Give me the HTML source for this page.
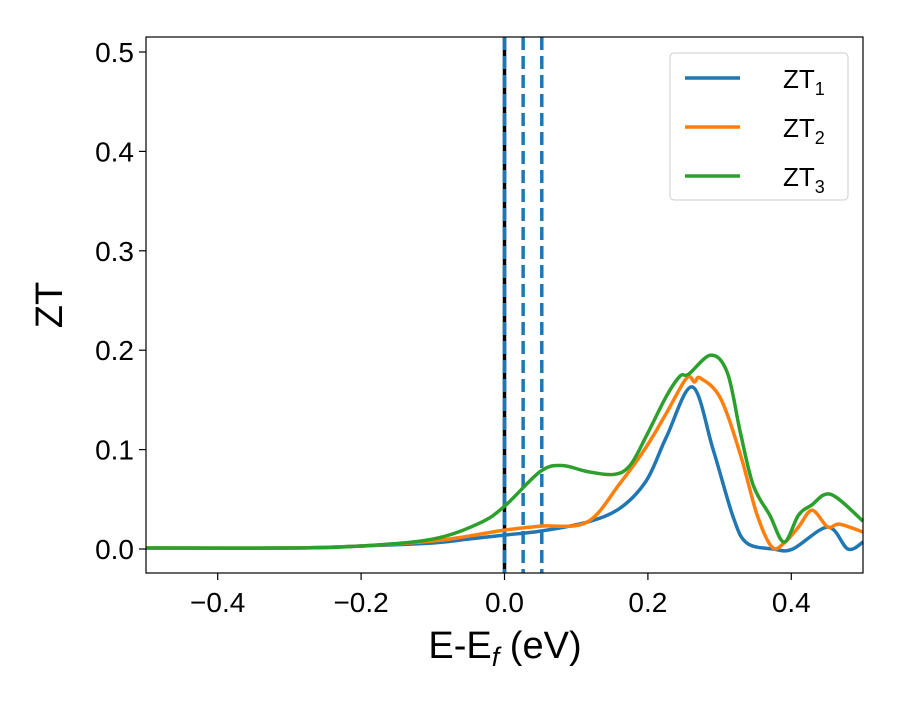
<!DOCTYPE html>
<html><head><meta charset="utf-8"><style>
body{margin:0;background:#fff;font-family:"Liberation Sans","DejaVu Sans",sans-serif}
</style></head><body>
<svg width="900" height="700" xmlns="http://www.w3.org/2000/svg" id="chart" font-family="Liberation Sans, DejaVu Sans, sans-serif">
<rect width="900" height="700" fill="#fff"/>
<g id="plot"></g>
<rect x="146" y="37" width="717" height="536" fill="none" stroke="#000" stroke-width="1.2"/>
<g id="axes"></g>
<text x="62" y="305" font-size="38" text-anchor="middle" transform="rotate(-90 62 305)">ZT</text>
<text x="505" y="658" font-size="38" text-anchor="middle">E-E<tspan font-size="27" dy="8" font-style="italic">f</tspan><tspan dy="-8"> (eV)</tspan></text>
<g>
<rect x="670" y="53" width="178" height="147" rx="4" fill="#fff" stroke="#ccc" stroke-width="1"/>
<line x1="685" y1="78" x2="740" y2="78" stroke="#1f77b4" stroke-width="3.5"/>
<text x="783" y="88" font-size="26">ZT<tspan font-size="18" dy="7">1</tspan></text>
<line x1="685" y1="127" x2="740" y2="127" stroke="#ff7f0e" stroke-width="3.5"/>
<text x="783" y="137" font-size="26">ZT<tspan font-size="18" dy="7">2</tspan></text>
<line x1="685" y1="176" x2="740" y2="176" stroke="#2ca02c" stroke-width="3.5"/>
<text x="783" y="186" font-size="26">ZT<tspan font-size="18" dy="7">3</tspan></text>
</g>
</svg>
<script>
const xTicks=[-0.4,-0.2,0.0,0.2,0.4];
const xTickLabels=["\u22120.4","\u22120.2","0.0","0.2","0.4"];
const yTicks=[0,0.1,0.2,0.3,0.4,0.5];
const yTickLabels=["0.0","0.1","0.2","0.3","0.4","0.5"];
const x1=[-0.5,-0.3,-0.2,-0.1,-0.05,0,0.05,0.115,0.161,0.198,0.226,0.262,0.291,0.319,0.338,0.375,0.402,0.451,0.479,0.5];
const zt1=[0.001,0.001,0.003,0.006,0.01,0.014,0.018,0.027,0.041,0.069,0.113,0.163,0.1,0.032,0.006,0.0,0.0,0.022,0.0,0.007];
const x2=[-0.5,-0.3,-0.2,-0.1,-0.05,0,0.05,0.115,0.161,0.198,0.226,0.254,0.265,0.273,0.301,0.329,0.352,0.373,0.39,0.41,0.429,0.451,0.467,0.5];
const zt2=[0.001,0.001,0.003,0.008,0.013,0.019,0.023,0.027,0.066,0.103,0.137,0.172,0.168,0.172,0.152,0.095,0.035,0.002,0.006,0.022,0.039,0.022,0.025,0.017];
const x3=[-0.5,-0.3,-0.2,-0.1,-0.035,0,0.05,0.08,0.115,0.152,0.175,0.198,0.226,0.245,0.257,0.288,0.311,0.329,0.347,0.37,0.39,0.41,0.428,0.455,0.5];
const zt3=[0.001,0.001,0.003,0.01,0.026,0.043,0.078,0.084,0.078,0.075,0.084,0.114,0.154,0.174,0.176,0.195,0.177,0.117,0.064,0.034,0.007,0.034,0.044,0.055,0.028];
const vlines=[0.0,0.026,0.052];
const NS="http://www.w3.org/2000/svg";
const X=v=>146+(v+0.5)*717;
const Y=v=>549-v*994;
const plot=document.getElementById('plot'),axes=document.getElementById('axes');
function mk(t,a,p){const e=document.createElementNS(NS,t);for(const k in a)e.setAttribute(k,a[k]);p.appendChild(e);return e;}
function path(xs,ys){const P=xs.map((x,i)=>[X(x),Y(ys[i])]);let d=`M${P[0][0]},${P[0][1]}`;
for(let i=0;i<P.length-1;i++){const p0=P[Math.max(0,i-1)],p1=P[i],p2=P[i+1],p3=P[Math.min(P.length-1,i+2)];
d+=` C${p1[0]+(p2[0]-p0[0])/6},${p1[1]+(p2[1]-p0[1])/6} ${p2[0]-(p3[0]-p1[0])/6},${p2[1]-(p3[1]-p1[1])/6} ${p2[0]},${p2[1]}`;}return d;}
const k=mk('line',{x1:X(0),x2:X(0),y1:37,y2:573,stroke:'#000','stroke-width':3.5},plot);


vlines.forEach((v,i)=>{const l=mk('line',{x1:X(v),x2:X(v),y1:37,y2:573,stroke:'#1f77b4','stroke-width':3.5,'stroke-dasharray':'13 6'},plot);

});
[[x1,zt1,'#1f77b4','zt1'],[x2,zt2,'#ff7f0e','zt2'],[x3,zt3,'#2ca02c','zt3']].forEach(s=>{
const p=mk('path',{d:path(s[0],s[1]),fill:'none',stroke:s[2],'stroke-width':3.5,'stroke-linejoin':'round'},plot);

});
xTicks.forEach((v,i)=>{mk('line',{x1:X(v),x2:X(v),y1:573,y2:580,stroke:'#000','stroke-width':1.2},axes);
const t=mk('text',{x:X(v),y:612,'font-size':28,'text-anchor':'middle'},axes);t.textContent=xTickLabels[i];

});
yTicks.forEach((v,i)=>{mk('line',{x1:139,x2:146,y1:Y(v),y2:Y(v),stroke:'#000','stroke-width':1.2},axes);
const t=mk('text',{x:134,y:Y(v)+10,'font-size':28,'text-anchor':'end'},axes);t.textContent=yTickLabels[i];

});
</script>
</body></html>
